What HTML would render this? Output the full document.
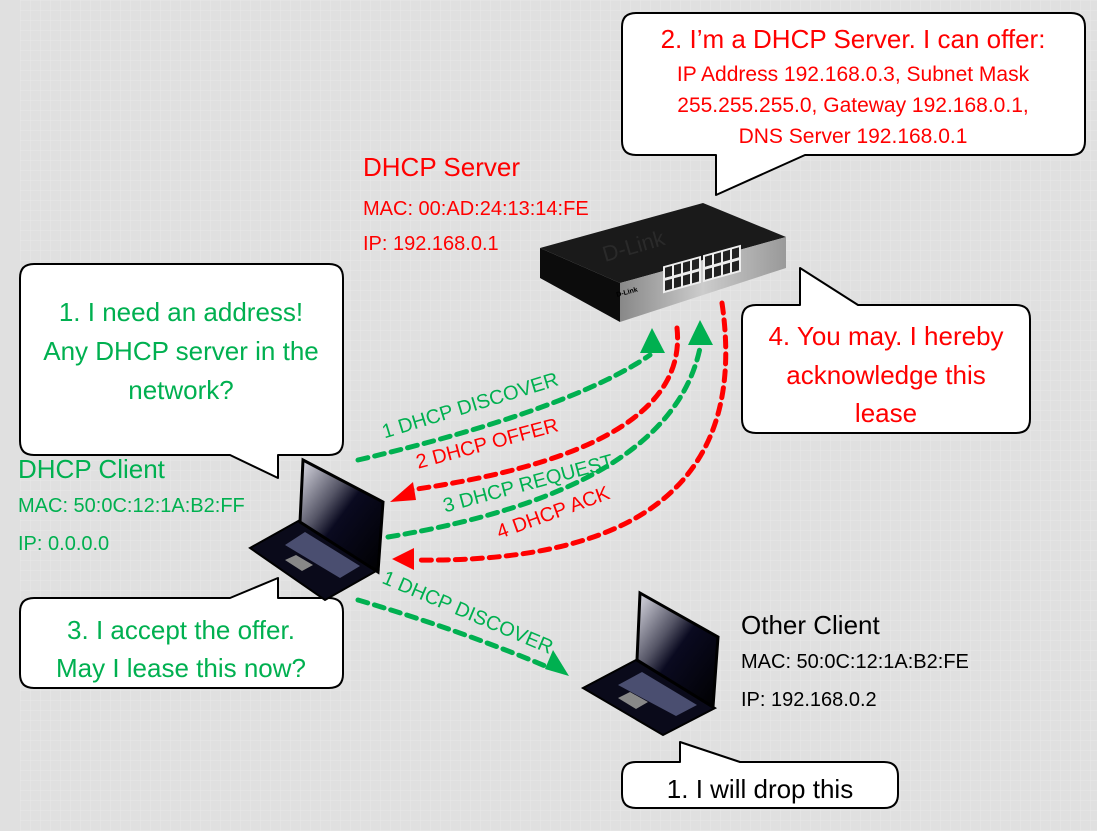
<!DOCTYPE html>
<html><head><meta charset="utf-8"><style>
html,body{margin:0;padding:0;background:#e0e0e0;}
svg{display:block;}
text{font-family:"Liberation Sans",sans-serif;}
</style></head><body>
<svg width="1097" height="831" viewBox="0 0 1097 831" xmlns="http://www.w3.org/2000/svg">
<defs>
<pattern id="g" width="10" height="10" patternUnits="userSpaceOnUse"><path d="M0 0H10M0 0V10" stroke="#e8e8e8" stroke-width="1"/></pattern>
<linearGradient id="scr" x1="0" y1="0" x2="1" y2="1"><stop offset="0" stop-color="#e0e0e8"/><stop offset="0.35" stop-color="#556"/><stop offset="0.5" stop-color="#0a0a20"/><stop offset="1" stop-color="#000"/></linearGradient>
<linearGradient id="front" x1="0" y1="0" x2="1" y2="0"><stop offset="0" stop-color="#888"/><stop offset="0.5" stop-color="#ccc"/><stop offset="1" stop-color="#999"/></linearGradient>
</defs>
<rect width="1097" height="831" fill="#e0e0e0"/>
<rect x="20" y="0" width="1077" height="831" fill="url(#g)"/>

<!-- callouts -->
<g fill="#fff" stroke="#000" stroke-width="2" stroke-linejoin="round">
<path d="M636,13 H1071 Q1085,13 1085,27 V141 Q1085,155 1071,155 H805 L716,195 V155 H636 Q622,155 622,141 V27 Q622,13 636,13 Z"/>
<path d="M34,264 H329 Q343,264 343,278 V441 Q343,455 329,455 H278 V478 L230,455 H34 Q20,455 20,441 V278 Q20,264 34,264 Z"/>
<path d="M756,305 H800 V268 L858,305 H1016 Q1030,305 1030,319 V419 Q1030,433 1016,433 H756 Q742,433 742,419 V319 Q742,305 756,305 Z"/>
<path d="M34,598 H230 L278,578 V598 H329 Q343,598 343,612 V674 Q343,688 329,688 H34 Q20,688 20,674 V612 Q20,598 34,598 Z"/>
<path d="M636,762 H680 V742 L740,762 H884 Q898,762 898,776 V794 Q898,808 884,808 H636 Q622,808 622,794 V776 Q622,762 636,762 Z"/>
</g>

<g fill="#ff0000" text-anchor="middle">
<text x="853" y="48" font-size="26">2. I’m a DHCP Server. I can offer:</text>
<text x="853" y="81" font-size="21">IP Address 192.168.0.3, Subnet Mask</text>
<text x="853" y="112" font-size="21">255.255.255.0, Gateway 192.168.0.1,</text>
<text x="853" y="143" font-size="21">DNS Server 192.168.0.1</text>
<text x="886" y="345" font-size="26">4. You may. I hereby</text>
<text x="886" y="384" font-size="26">acknowledge this</text>
<text x="886" y="422" font-size="26">lease</text>
</g>
<g fill="#00b050" text-anchor="middle" font-size="26">
<text x="181" y="321">1. I need an address!</text>
<text x="181" y="360">Any DHCP server in the</text>
<text x="181" y="399">network?</text>
<text x="181" y="639">3. I accept the offer.</text>
<text x="181" y="677">May I lease this now?</text>
</g>
<text x="760" y="798" font-size="26" text-anchor="middle" fill="#000">1. I will drop this</text>

<!-- labels -->
<g fill="#ff0000"><text x="363" y="176" font-size="26">DHCP Server</text><text x="363" y="215" font-size="20">MAC: 00:AD:24:13:14:FE</text><text x="363" y="250" font-size="20">IP: 192.168.0.1</text></g>
<g fill="#00b050"><text x="18" y="478" font-size="26">DHCP Client</text><text x="18" y="512" font-size="20">MAC: 50:0C:12:1A:B2:FF</text><text x="18" y="550" font-size="20">IP: 0.0.0.0</text></g>
<g fill="#000"><text x="741" y="634" font-size="26">Other Client</text><text x="741" y="668" font-size="20">MAC: 50:0C:12:1A:B2:FE</text><text x="741" y="706" font-size="20">IP: 192.168.0.2</text></g>

<!-- switch -->
<polygon points="540,248 703,203 786,237 620,283" fill="#1a1a1a"/>
<polygon points="540,248 620,283 620,322 540,278" fill="#0c0c0c"/>
<polygon points="620,283 786,237 786,268 620,322" fill="url(#front)"/>
<g transform="matrix(1,-0.277,0,1,0,0)">
<rect x="663" y="450" width="38" height="27" fill="#eee"/>
<rect x="703" y="450" width="38" height="27" fill="#eee"/>
<g fill="#222">
<rect x="665" y="452" width="7" height="10"/><rect x="674" y="452" width="7" height="10"/><rect x="683" y="452" width="7" height="10"/><rect x="692" y="452" width="7" height="10"/>
<rect x="665" y="465" width="7" height="10"/><rect x="674" y="465" width="7" height="10"/><rect x="683" y="465" width="7" height="10"/><rect x="692" y="465" width="7" height="10"/>
<rect x="705" y="452" width="7" height="10"/><rect x="714" y="452" width="7" height="10"/><rect x="723" y="452" width="7" height="10"/><rect x="732" y="452" width="7" height="10"/>
<rect x="705" y="465" width="7" height="10"/><rect x="714" y="465" width="7" height="10"/><rect x="723" y="465" width="7" height="10"/><rect x="732" y="465" width="7" height="10"/>
</g>
</g>
<text x="617" y="297" font-size="7" fill="#000" font-weight="bold" transform="rotate(-15 617 297)">D-Link</text>
<text x="605" y="262" font-size="22" fill="#2a2a2a" transform="rotate(-16 605 262)" font-family="Liberation Serif">D-Link</text>

<!-- client laptop -->
<polygon points="250,548 300,520 378,570 325,600" fill="#0a0a1a" stroke="#000" stroke-width="2"/>
<polygon points="285,545 305,532 360,566 340,578" fill="#4a4e70"/>
<polygon points="285,560 296,555 313,565 302,571" fill="#888"/>
<polygon points="303,460 383,502 378,572 300,522" fill="url(#scr)" stroke="#000" stroke-width="3"/>

<!-- other laptop -->
<polygon points="583,688 636,660 715,708 663,735" fill="#0a0a1a" stroke="#000" stroke-width="2"/>
<polygon points="618,685 642,672 697,705 676,716" fill="#4a4e70"/>
<polygon points="618,698 630,692 648,702 636,709" fill="#888"/>
<polygon points="640,593 718,637 713,707 637,660" fill="url(#scr)" stroke="#000" stroke-width="3"/>

<!-- arrows -->
<g fill="none" stroke-width="5" stroke-dasharray="10,7" stroke-linecap="round">
<path d="M358,460 Q570,410 650,355" stroke="#00b050"/>
<path d="M677,328 Q690,450 410,490" stroke="#ff0000"/>
<path d="M388,537 Q670,490 700,348" stroke="#00b050"/>
<path d="M722,303 Q760,565 415,560" stroke="#ff0000"/>
<path d="M358,600 Q460,630 550,668" stroke="#00b050"/>
</g>
<polygon points="640,353 665,353 652,328" fill="#00b050"/>
<polygon points="688,345 713,345 700,320" fill="#00b050"/>
<polygon points="390,502 413,482 416,500" fill="#ff0000"/>
<polygon points="392,559 414,548 414,570" fill="#ff0000"/>
<polygon points="569,676 545,669 553,650" fill="#00b050"/>

<g font-size="20">
<text x="470" y="412" fill="#00b050" text-anchor="middle" transform="rotate(-17 470 405)">1 DHCP DISCOVER</text>
<text x="487" y="450" fill="#ff0000" text-anchor="middle" transform="rotate(-15 487 443)">2 DHCP OFFER</text>
<text x="528" y="490" fill="#00b050" text-anchor="middle" transform="rotate(-15 528 483)">3 DHCP REQUEST</text>
<text x="553" y="519" fill="#ff0000" text-anchor="middle" transform="rotate(-20 553 512)">4 DHCP ACK</text>
<text x="468" y="619" fill="#00b050" text-anchor="middle" transform="rotate(23 468 612)">1 DHCP DISCOVER</text>
</g>
</svg>
</body></html>
